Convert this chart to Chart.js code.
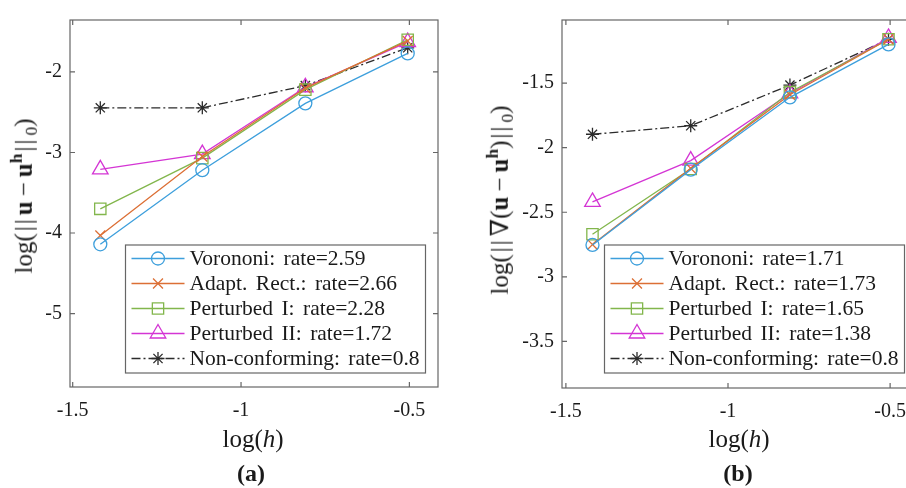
<!DOCTYPE html>
<html>
<head>
<meta charset="utf-8">
<script src="https://cdn.jsdelivr.net/npm/chart.js@4/dist/chart.umd.min.js"></script>
<style>
  html, body { margin: 0; padding: 0; background: #fff; }
  body { width: 906px; height: 488px; overflow: hidden; position: relative; font-family: "Liberation Serif", "DejaVu Serif", serif; color: #1a1a1a; }
  #c1 { position: absolute; left: 0; top: 0; }
  #c2 { position: absolute; left: 453px; top: 0; }
  .t { position: absolute; white-space: nowrap; font-size: 25px; line-height: 1; }
  .yt { transform: translate(-50%, -50%) rotate(-90deg); }
  .xt { transform: translate(-50%, -50%); }
  .cap { position: absolute; transform: translate(-50%, -50%); font-weight: bold; font-size: 24px; white-space: nowrap; }
  .bar { letter-spacing: 2px; margin: 0 2px; }
  sup { font-size: 0.7em; vertical-align: 0.55em; }
  sub { font-size: 0.7em; vertical-align: -0.3em; }
  .op { margin: 0 5px; }
</style>
</head>
<body>
<canvas id="c1" width="453" height="488"></canvas>
<canvas id="c2" width="480" height="488"></canvas>

<div class="t yt" style="left:24px; top:196px;">log(<span class="bar">||</span><b>u</b><span class="op">−</span><b>u</b><sup><b>h</b></sup><span class="bar">||</span><sub>0</sub>)</div>
<div class="t xt" style="left:253px; top:438px;">log(<i>h</i>)</div>
<div class="cap" style="left:251px; top:473px;">(a)</div>

<div class="t yt" style="left:500px; top:200px;">log(<span class="bar">||</span>∇(<b>u</b><span class="op">−</span><b>u</b><sup><b>h</b></sup>)<span class="bar">||</span><sub>0</sub>)</div>
<div class="t xt" style="left:739px; top:438px;">log(<i>h</i>)</div>
<div class="cap" style="left:738px; top:473px;">(b)</div>

<script>
// ---------- data ----------
const logH = [-1.418, -1.115, -0.809, -0.505];
const seriesNames = ['Vorononi', 'Adapt. Rect.', 'Perturbed I', 'Perturbed II', 'Non-conforming'];
const ratesA = ['2.59', '2.66', '2.28', '1.72', '0.8'];
const ratesB = ['1.71', '1.73', '1.65', '1.38', '0.8'];

// (a) L2 error
const voronoiA   = [-4.14, -3.22, -2.39, -1.77];
const adaptA     = [-4.03, -3.05, -2.20, -1.615];
const pertIA     = [-3.70, -3.07, -2.22, -1.60];
const pertIIA    = [-3.21, -3.02, -2.19, -1.63];
const nonconfA   = [-2.445, -2.445, -2.17, -1.70];

// (b) gradient error
const voronoiB   = [-2.753, -2.17, -1.61, -1.20];
const adaptB     = [-2.75, -2.16, -1.59, -1.16];
const pertIB     = [-2.67, -2.165, -1.57, -1.16];
const pertIIB    = [-2.42, -2.10, -1.58, -1.15];
const nonconfB   = [-1.896, -1.83, -1.515, -1.16];

const xTicks  = [-1.5, -1, -0.5];
const yTicksA = [-2, -3, -4, -5];
const yTicksB = [-1.5, -2, -2.5, -3, -3.5];

// ---------- styles ----------
const styles = [
  { color: '#3d9fdc', point: 'circle',   radius: 6.5, dash: [] },
  { color: '#dc6f35', point: 'crossRot', radius: 7,   dash: [] },
  { color: '#82b64c', point: 'rect',     radius: 8,   dash: [] },
  { color: '#d435d4', point: 'triangle', radius: 9,   dash: [] },
  { color: '#2b2b2b', point: 'star',     radius: 6.5, dash: [9, 3, 2, 3] }
];

function makeDatasets(seriesList, rates) {
  return seriesList.map((vals, i) => ({
    label: seriesNames[i] + ': rate=' + rates[i],
    data: vals.map((v, k) => ({ x: logH[k], y: v })),
    borderColor: styles[i].color,
    backgroundColor: 'rgba(0,0,0,0)',
    borderWidth: 1.3,
    borderDash: styles[i].dash,
    pointStyle: styles[i].point,
    pointRadius: styles[i].radius,
    pointHoverRadius: styles[i].radius,
    pointBorderColor: styles[i].color,
    pointBackgroundColor: 'rgba(0,0,0,0)',
    pointBorderWidth: 1.3,
    tension: 0,
    fill: false
  }));
}

const tickFont = { family: '"Liberation Serif", "DejaVu Serif", serif', size: 20 };
const axisColor = '#666666';

const axesBoxPlugin = {
  id: 'axesBox',
  afterDatasetsDraw(chart) {
    const { ctx, chartArea: a, scales } = chart;
    const xs = scales.x, ys = scales.y;
    ctx.save();
    ctx.strokeStyle = axisColor;
    ctx.lineWidth = 1.2;
    ctx.setLineDash([]);
    ctx.strokeRect(a.left, a.top, a.right - a.left, a.bottom - a.top);
    const tl = 5;
    ctx.beginPath();
    xs.ticks.forEach(t => {
      const px = xs.getPixelForValue(t.value);
      ctx.moveTo(px, a.bottom); ctx.lineTo(px, a.bottom - tl);
      ctx.moveTo(px, a.top);    ctx.lineTo(px, a.top + tl);
    });
    ys.ticks.forEach(t => {
      const py = ys.getPixelForValue(t.value);
      ctx.moveTo(a.left, py);  ctx.lineTo(a.left + tl, py);
      ctx.moveTo(a.right, py); ctx.lineTo(a.right - tl, py);
    });
    ctx.stroke();
    ctx.restore();
  }
};

const boxLegendPlugin = {
  id: 'boxLegend',
  afterDraw(chart, args, o) {
    const ctx = chart.ctx;
    ctx.save();
    ctx.fillStyle = '#ffffff';
    ctx.fillRect(o.x, o.y, o.w, o.h);
    ctx.strokeStyle = axisColor;
    ctx.lineWidth = 1.2;
    ctx.setLineDash([]);
    ctx.strokeRect(o.x, o.y, o.w, o.h);
    chart.data.datasets.forEach((ds, i) => {
      const y = o.y + o.row0 + i * o.gap;
      ctx.strokeStyle = ds.borderColor;
      ctx.lineWidth = ds.borderWidth;
      ctx.setLineDash(ds.borderDash || []);
      ctx.beginPath();
      ctx.moveTo(o.x + o.l0, y);
      ctx.lineTo(o.x + o.l1, y);
      ctx.stroke();
      ctx.setLineDash([]);
      ctx.fillStyle = 'rgba(0,0,0,0)';
      ctx.lineWidth = ds.pointBorderWidth;
      Chart.helpers.drawPoint(ctx, { pointStyle: ds.pointStyle, radius: ds.pointRadius, rotation: 0, borderWidth: ds.pointBorderWidth }, o.x + (o.l0 + o.l1) / 2, y);
      ctx.fillStyle = '#1a1a1a';
      ctx.font = o.fontSize + 'px "Liberation Serif", "DejaVu Serif", serif';
      if ('wordSpacing' in ctx) ctx.wordSpacing = o.wordSpacing + 'px';
      ctx.textBaseline = 'middle';
      ctx.textAlign = 'left';
      ctx.fillText(ds.label, o.x + o.tx, y + 1);
    });
    ctx.restore();
  }
};

function makeChart(id, datasets, xmin, xmax, ymin, ymax, yTicks, yWidth, xHeight, padRight, legendX) {
  return new Chart(document.getElementById(id), {
    type: 'line',
    data: { datasets },
    options: {
      responsive: false,
      animation: false,
      devicePixelRatio: 1,
      layout: { padding: { left: 0, top: 12, right: padRight, bottom: 0 } },
      plugins: {
        legend: { display: false },
        tooltip: { enabled: false },
        boxLegend: { x: legendX, y: 245, w: 300, h: 128, row0: 13.5, gap: 25, l0: 6, l1: 59, tx: 64, fontSize: 21.5, wordSpacing: 3 }
      },
      scales: {
        x: {
          type: 'linear', min: xmin, max: xmax,
          afterBuildTicks: s => { s.ticks = xTicks.map(v => ({ value: v })); },
          afterFit: s => { s.height = xHeight; },
          grid: { display: false, drawTicks: false },
          border: { display: false },
          ticks: { font: tickFont, color: '#1a1a1a', padding: 12, maxRotation: 0, callback: v => String(v) }
        },
        y: {
          type: 'linear', min: ymin, max: ymax,
          afterBuildTicks: s => { s.ticks = yTicks.map(v => ({ value: v })); },
          afterFit: s => { s.width = yWidth; },
          grid: { display: false, drawTicks: false },
          border: { display: false },
          ticks: { font: tickFont, color: '#1a1a1a', padding: 8, callback: v => String(v) }
        }
      }
    },
    plugins: [axesBoxPlugin, boxLegendPlugin]
  });
}

makeChart('c1', makeDatasets([voronoiA, adaptA, pertIA, pertIIA, nonconfA], ratesA),
  -1.508, -0.415, -5.912, -1.355, yTicksA, 70, 101, 15, 125.5);
makeChart('c2', makeDatasets([voronoiB, adaptB, pertIB, pertIIB, nonconfB], ratesB),
  -1.512, -0.414, -3.861, -1.011, yTicksB, 109, 100, 15, 151.5);
</script>
</body>
</html>
